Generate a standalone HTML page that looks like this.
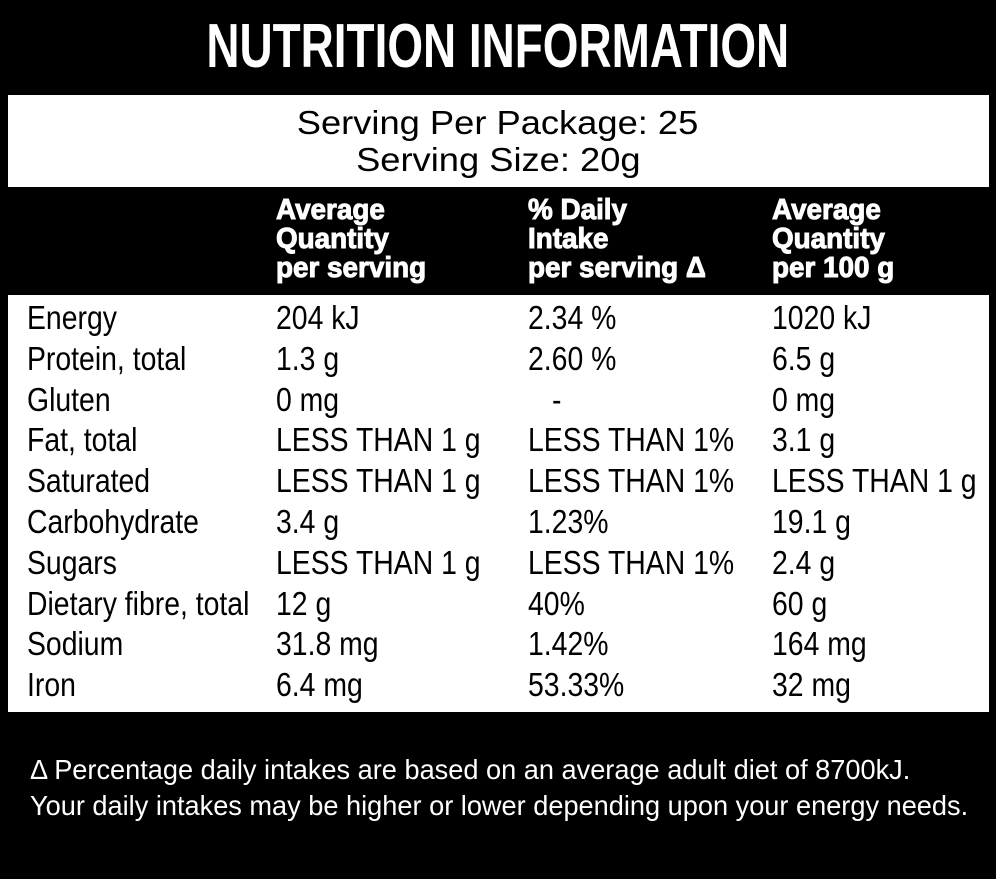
<!DOCTYPE html>
<html><head><meta charset="utf-8"><style>
html,body{margin:0;padding:0}
body{width:996px;height:879px;background:#000;position:relative;overflow:hidden;font-family:"Liberation Sans",sans-serif}
.t{position:absolute;white-space:nowrap;transform-origin:0 50%;line-height:1}
.c{position:absolute;left:0;width:996px;text-align:center;line-height:1;white-space:nowrap}
.c span{display:inline-block;transform:scaleX(1.1)}
.box{position:absolute;background:#fff}
.b{font-size:33px;color:#000;transform:scaleX(.86)}
.h{font-size:29px;color:#fff;font-weight:bold;transform:scaleX(.96);line-height:29px;-webkit-text-stroke:1px #fff}
.f{font-size:28px;color:#fff;transform:scaleX(.97)}
</style></head><body>
<div class="c" style="top:16px;font-size:62px;font-weight:bold;color:#fff"><span style="transform:scaleX(.74)">NUTRITION INFORMATION</span></div>
<div class="box" style="left:8px;top:95px;width:981px;height:92px"></div>
<div class="c" style="top:106px;font-size:33px;color:#000"><span>Serving Per Package: 25</span></div>
<div class="c" style="top:143px;font-size:33px;color:#000"><span>Serving Size: 20g</span></div>
<div class="t h" style="left:276px;top:196px">Average<br>Quantity<br>per serving</div>
<div class="t h" style="left:528px;top:196px">% Daily<br>Intake<br>per serving Δ</div>
<div class="t h" style="left:772px;top:196px">Average<br>Quantity<br>per 100 g</div>
<div class="box" style="left:8px;top:295px;width:981px;height:417px"></div>
<div id="rows"></div>
<div class="t f" style="left:30px;top:756px">Δ Percentage daily intakes are based on an average adult diet of 8700kJ.</div>
<div class="t f" style="left:30px;top:792px">Your daily intakes may be higher or lower depending upon your energy needs.</div>
<script>
const names=["Energy","Protein, total","Gluten","Fat, total","Saturated","Carbohydrate","Sugars","Dietary fibre, total","Sodium","Iron"];
const perServing=["204 kJ","1.3 g","0 mg","LESS THAN 1 g","LESS THAN 1 g","3.4 g","LESS THAN 1 g","12 g","31.8 mg","6.4 mg"];
const daily=["2.34 %","2.60 %","   -","LESS THAN 1%","LESS THAN 1%","1.23%","LESS THAN 1%","40%","1.42%","53.33%"];
const per100=["1020 kJ","6.5 g","0 mg","3.1 g","LESS THAN 1 g","19.1 g","2.4 g","60 g","164 mg","32 mg"];
const cols=[27,276,528,772];
const root=document.getElementById('rows');
names.forEach((n,i)=>{
  [n,perServing[i],daily[i],per100[i]].forEach((v,j)=>{
    const d=document.createElement('div');
    d.className='t b';
    
    
    d.style.left=(cols[j]+(v.trim()==='-'?24:0))+'px';
    d.style.top=(301+i*40.8)+'px';
    d.textContent=v.trim();
    root.appendChild(d);
  });
});
</script>
</body></html>
